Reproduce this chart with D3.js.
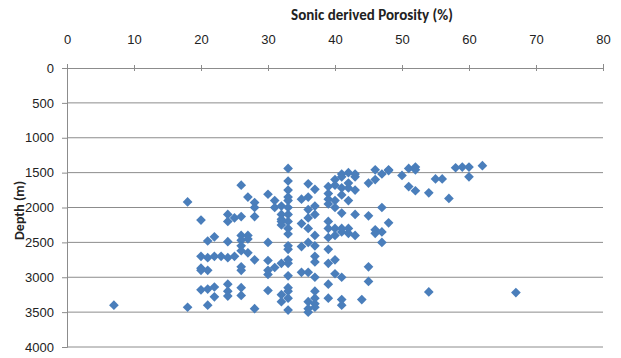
<!DOCTYPE html>
<html>
<head>
<meta charset="utf-8">
<script src="https://cdn.jsdelivr.net/npm/d3@7"></script>
<style>
  body { margin: 0; background: #fff; }
  svg { font-family: Carlito, "Liberation Sans Narrow", "Open Sans", sans-serif; }
</style>
</head>
<body>
<div id="chart"></div>
<script>
// porosity (%) and depth (m)
const porosity = [
  7, 18, 18,
  20, 20, 20, 20, 20,
  21, 21, 21, 21, 21,
  22, 22, 22, 22, 23,
  24, 24, 24, 24, 24, 24, 24, 25, 25,
  26, 26, 26, 26, 26, 26, 26, 26, 26, 26,
  27, 27, 27, 27,
  28, 28, 28, 28, 28,
  30, 30, 30, 30, 30, 30, 31, 31, 31,
  32, 32, 32, 32, 32, 32, 32, 32,
  33, 33, 33, 33, 33, 33, 33, 33, 33, 33, 33, 33, 33, 33, 33, 33, 33, 33, 33,
  35, 35, 35, 35,
  36, 36, 36, 36, 36, 36, 36, 36, 36, 36,
  37, 37, 37, 37, 37, 37, 37, 37, 37, 37, 37, 37,
  39, 39, 39, 39, 39, 39, 39, 39, 39, 39, 39,
  40, 40, 40, 40, 40, 40, 40, 40,
  41, 41, 41, 41, 41, 41, 41, 41, 41, 41,
  42, 42, 42, 42, 42, 42,
  43, 43, 43, 43, 43, 44,
  45, 45, 45, 45, 46, 46, 46, 46,
  47, 47, 47, 47, 48, 48, 48,
  50, 51, 51, 52, 52, 52, 54, 54, 55, 56, 57,
  58, 59, 60, 60, 62, 67
];
const depth = [
  3400, 1920, 3430,
  2180, 2700, 2870, 2900, 3180,
  2480, 2720, 2900, 3170, 3400,
  2420, 2700, 3140, 3280, 2700,
  2100, 2200, 2490, 2720, 3100, 3200, 3270, 2150, 2700,
  1680, 2130, 2400, 2470, 2550, 2620, 2850, 2900, 3150, 3260,
  1850, 2400, 2450, 2650,
  1930, 2000, 2130, 2750, 3450,
  1810, 2500, 2760, 2900, 2960, 3190, 1900, 2000, 2860,
  1980, 2100, 2170, 2200, 2250, 2800, 3250, 3350,
  1440, 1620, 1750, 1850, 1900, 2000, 2100, 2200, 2300, 2380, 2550, 2600, 2750, 2800, 2980, 3150, 3200, 3300, 3470,
  1880, 2230, 2560, 2930,
  1660, 1850, 2030, 2150, 2300, 2500, 2930, 3350, 3450, 3500,
  1740, 1980, 2100, 2400, 2550, 2700, 2780, 3000, 3200, 3300, 3380, 3430,
  1700, 1800, 1880, 1950, 2200, 2300, 2430, 2600, 2800, 3100, 3300,
  1600, 1680, 1900, 2000, 2300, 2400, 2750, 2950,
  1520, 1560, 1720, 1820, 2080, 2300, 2350, 3000, 3320, 3400,
  1500, 1650, 1720, 1900, 2300, 2370,
  1520, 1560, 1750, 2100, 2400, 3320,
  1650, 2120, 2850, 3060, 1460, 1600, 2320, 2370,
  1520, 2000, 2350, 2500, 1460, 1470, 2220,
  1540, 1440, 1700, 1420, 1460, 1760, 1790, 3210, 1590, 1590, 1870,
  1430, 1420, 1420, 1560, 1400, 3220
];

const xTicks = [0, 10, 20, 30, 40, 50, 60, 70, 80];
const yTicks = [0, 500, 1000, 1500, 2000, 2500, 3000, 3500, 4000];

const width = 621, height = 358;
const margin = { top: 68, right: 18, bottom: 11, left: 67 };

const svg = d3.select('#chart').append('svg')
  .attr('width', width)
  .attr('height', height);

const x = d3.scaleLinear().domain([0, 80]).range([margin.left, width - margin.right]);
const y = d3.scaleLinear().domain([0, 4000]).range([margin.top, height - margin.bottom]);

// horizontal grid
svg.append('g')
  .selectAll('line')
  .data(yTicks.slice(1))
  .enter().append('line')
    .attr('x1', x(0)).attr('x2', x(80))
    .attr('y1', d => y(d)).attr('y2', d => y(d))
    .attr('stroke', '#8c8c8c')
    .attr('stroke-width', 1);

// top axis
const xAxis = svg.append('g')
  .attr('transform', `translate(0,${y(0)})`)
  .call(d3.axisTop(x).tickValues(xTicks).tickSize(4).tickPadding(20));
xAxis.select('.domain').attr('stroke', '#8c8c8c');
xAxis.selectAll('.tick line').attr('stroke', '#8c8c8c').attr('y2', 3).attr('y1', -3);
xAxis.selectAll('text').attr('font-size', 13).attr('fill', '#222');

// left axis
const yAxis = svg.append('g')
  .attr('transform', `translate(${x(0)},0)`)
  .call(d3.axisLeft(y).tickValues(yTicks).tickFormat(d3.format('d')).tickSize(5).tickPadding(8));
yAxis.select('.domain').attr('stroke', '#8c8c8c');
yAxis.selectAll('.tick line').attr('stroke', '#8c8c8c');
yAxis.selectAll('text').attr('font-size', 13).attr('fill', '#222');

// titles
svg.append('text')
  .attr('x', 372).attr('y', 20)
  .attr('text-anchor', 'middle')
  .attr('font-size', 15).attr('font-weight', 'bold').attr('fill', '#222')
  .text('Sonic derived Porosity (%)');

svg.append('text')
  .attr('transform', `translate(24,${(y(1500) + y(2500)) / 2 + 3}) rotate(-90)`)
  .attr('text-anchor', 'middle')
  .attr('font-size', 14).attr('font-weight', 'bold').attr('fill', '#222')
  .text('Depth (m)');

// points
const pts = porosity.map((p, i) => ({ p: p, d: depth[i] }));
const diamond = d3.symbol().type(d3.symbolDiamond2).size(60);

svg.append('g')
  .selectAll('path')
  .data(pts)
  .enter().append('path')
    .attr('d', diamond)
    .attr('transform', d => `translate(${x(d.p)},${y(d.d)})`)
    .attr('fill', '#4a7ebb');
</script>
</body>
</html>
